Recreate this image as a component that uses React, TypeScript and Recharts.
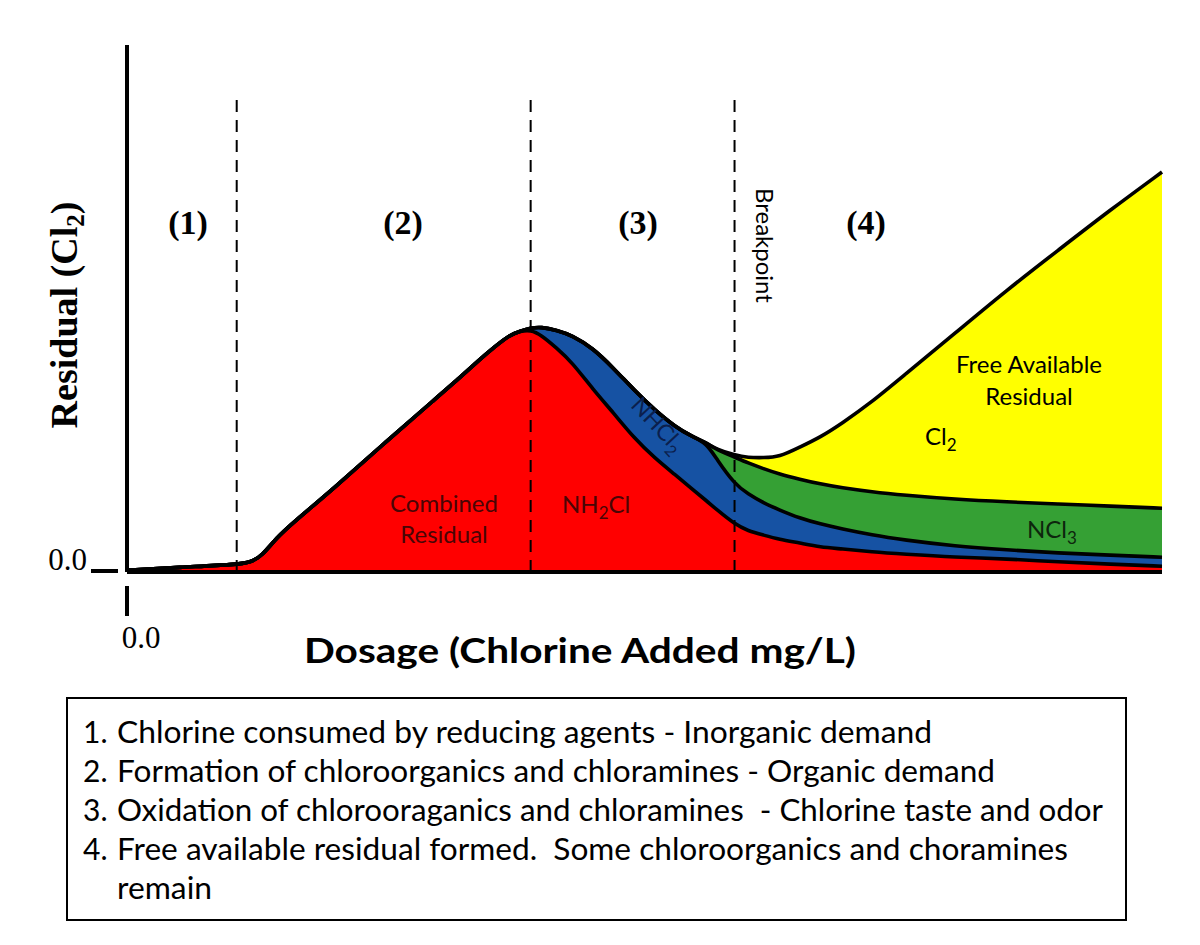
import React from 'react';
import { AreaChart, Area, XAxis, YAxis, ReferenceLine } from 'recharts';

// Dosage (chlorine added, relative units 0-100)
const dosage = [0, 5, 10.6, 12, 13, 14.5, 16, 20, 25, 30, 32, 34, 35.5, 37, 38, 39, 40, 41.5, 43, 45, 47, 49, 51, 53, 54.5, 56, 57, 58.7, 60, 61.5, 63, 65, 67, 69, 72, 75, 80, 85, 90, 95, 100];
// Layer thicknesses (residual, relative units 0-10), stacked bottom to top
const combinedNH2Cl = [0.03, 0.09, 0.14, 0.19, 0.3, 0.66, 0.93, 1.59, 2.47, 3.32, 3.66, 4.02, 4.27, 4.5, 4.57, 4.59, 4.5, 4.25, 3.98, 3.47, 3.02, 2.54, 2.16, 1.84, 1.59, 1.35, 1.18, 0.91, 0.78, 0.7, 0.62, 0.55, 0.47, 0.44, 0.38, 0.34, 0.28, 0.25, 0.19, 0.15, 0.11];
const dichloramineNHCl2 = [0, 0, 0, 0, 0, 0, 0, 0, 0, 0, 0, 0, 0, 0, 0, 0.04, 0.15, 0.34, 0.51, 0.78, 0.85, 0.91, 0.91, 0.91, 0.99, 1.1, 0.95, 0.76, 0.7, 0.61, 0.56, 0.47, 0.44, 0.38, 0.32, 0.27, 0.21, 0.17, 0.17, 0.17, 0.17];
const trichloramineNCl3 = [0, 0, 0, 0, 0, 0, 0, 0, 0, 0, 0, 0, 0, 0, 0, 0, 0, 0, 0, 0, 0, 0, 0, 0, 0, 0, 0.19, 0.51, 0.59, 0.65, 0.68, 0.74, 0.76, 0.78, 0.82, 0.85, 0.89, 0.91, 0.93, 0.93, 0.93];
const freeCl2 = [0, 0, 0, 0, 0, 0, 0, 0, 0, 0, 0, 0, 0, 0, 0, 0, 0, 0, 0, 0, 0, 0, 0, 0, 0, 0, 0, 0.04, 0.1, 0.21, 0.32, 0.61, 0.89, 1.21, 1.71, 2.26, 3.15, 4.02, 4.82, 5.62, 6.38];

const zoneBoundaries = [10.6, 39, 58.7];
const zoneTop = 9.05;
const xTicks = [0];
const yTicks = [0];
const zoneLabels = ['(1)', '(2)', '(3)', '(4)'];
const legendNumbers = ['1.', '2.', '3.', '4.'];
const legendLines = [
  'Chlorine consumed by reducing agents - Inorganic demand',
  'Formation of chloroorganics and chloramines - Organic demand',
  'Oxidation of chlorooraganics and chloramines  - Chlorine taste and odor',
  'Free available residual formed.  Some chloroorganics and choramines',
  'remain',
];

const series = [
  { key: 'nh2cl', color: '#ff0000' },
  { key: 'nhcl2', color: '#1652a3' },
  { key: 'ncl3', color: '#35a034' },
  { key: 'cl2', color: '#ffff00' },
];

const data = dosage.map((x, i) => ({
  x,
  nh2cl: combinedNH2Cl[i],
  nhcl2: dichloramineNHCl2[i],
  ncl3: trichloramineNCl3[i],
  cl2: freeCl2[i],
}));

const SERIF = '"Liberation Serif", "Times New Roman", serif';
const SANS = 'Lato, "Open Sans", sans-serif';

const YTick = (props: any) => {
  const { y, payload } = props;
  return (
    <g>
      <line x1={91} x2={118} y1={y - 1} y2={y - 1} stroke="#000" strokeWidth={4} />
      <text x={87} y={y - 2} textAnchor="end" fontFamily={SERIF} fontSize={31} fill="#000">
        {Number(payload.value).toFixed(1)}
      </text>
    </g>
  );
};

const XTick = (props: any) => {
  const { x, payload } = props;
  return (
    <g>
      <line x1={x} x2={x} y1={586} y2={616} stroke="#000" strokeWidth={4} />
      <text x={x + 14} y={648} textAnchor="middle" fontFamily={SERIF} fontSize={31} fill="#000">
        {Number(payload.value).toFixed(1)}
      </text>
    </g>
  );
};

const zoneLabelX = [188, 403, 638, 866];
const legendBaselines = [743, 782, 821, 860, 899];
const legendWidths = [815, 878, 986, 951, 95];

export default function App() {
  return (
    <div style={{ position: 'absolute', left: 0, top: 0, width: 1200, height: 945, background: '#fff', overflow: 'hidden' }}>
      <div style={{ position: 'absolute', left: 0, top: 0 }}>
        <AreaChart width={1200} height={700} data={data} margin={{ top: 45, right: 38, bottom: 0, left: 0 }}>
          <XAxis
            type="number"
            dataKey="x"
            domain={[0, 100]}
            ticks={xTicks}
            tickLine={false}
            axisLine={{ stroke: '#000', strokeWidth: 4 }}
            height={128}
            tick={<XTick />}
          />
          <YAxis
            type="number"
            domain={[0, 10]}
            ticks={yTicks}
            tickLine={false}
            axisLine={{ stroke: '#000', strokeWidth: 4 }}
            width={127}
            tick={<YTick />}
          />
          {series.map((s) => (
            <Area
              key={'fill-' + s.key}
              type="basis"
              dataKey={s.key}
              stackId="fill"
              stroke="none"
              fill={s.color}
              fillOpacity={1}
              isAnimationActive={false}
              dot={false}
              activeDot={false}
            />
          ))}
          {series.map((s) => (
            <Area
              key={'line-' + s.key}
              type="basis"
              dataKey={s.key}
              stackId="line"
              stroke="#000"
              strokeWidth={3.6}
              fill="none"
              isAnimationActive={false}
              dot={false}
              activeDot={false}
            />
          ))}
          {zoneBoundaries.map((b) => (
            <ReferenceLine
              key={'zb' + b}
              segment={[{ x: b, y: 0 }, { x: b, y: zoneTop }]}
              stroke="#000"
              strokeWidth={2}
              strokeDasharray="12 8"
            />
          ))}
        </AreaChart>
      </div>
      <svg width={1200} height={945} style={{ position: 'absolute', left: 0, top: 0, pointerEvents: 'none' }}>
        {/* Axis titles */}
        <text
          transform="translate(77,315) rotate(-90)"
          textAnchor="middle"
          fontFamily={SERIF}
          fontWeight={700}
          fontSize={38}
          fill="#000"
        >
          Residual (Cl<tspan fontSize={25} dy={7}>2</tspan><tspan dy={-7}>)</tspan>
        </text>
        <text
          x={304}
          y={663}
          fontFamily={SANS}
          fontWeight={700}
          fontSize={35}
          fill="#000"
          textLength={552}
          lengthAdjust="spacingAndGlyphs"
        >
          Dosage (Chlorine Added mg/L)
        </text>

        {/* Zone labels */}
        {zoneLabels.map((z, i) => (
          <text key={z} x={zoneLabelX[i]} y={234} textAnchor="middle" fontFamily={SERIF} fontWeight={700} fontSize={34} fill="#000">
            {z}
          </text>
        ))}

        {/* Breakpoint */}
        <text transform="translate(756,188) rotate(90)" fontFamily={SANS} fontSize={24} fill="#000">
          Breakpoint
        </text>

        {/* In-area labels */}
        <text x={444} y={512} textAnchor="middle" fontFamily={SANS} fontSize={24} fill="#4a0505">Combined</text>
        <text x={444} y={543} textAnchor="middle" fontFamily={SANS} fontSize={24} fill="#4a0505">Residual</text>
        <text x={562} y={513} fontFamily={SANS} fontSize={24} fill="#4a0505">
          NH<tspan fontSize={17} dy={6}>2</tspan><tspan dy={-6}>Cl</tspan>
        </text>
        <text transform="translate(652,430) rotate(47)" textAnchor="middle" fontFamily={SANS} fontSize={23} fill="#0b1f4d">
          NHCl<tspan fontSize={16} dy={6}>2</tspan>
        </text>
        <text x={1029} y={373} textAnchor="middle" fontFamily={SANS} fontSize={24} fill="#000">Free Available</text>
        <text x={1029} y={405} textAnchor="middle" fontFamily={SANS} fontSize={24} fill="#000">Residual</text>
        <text x={925} y={445} fontFamily={SANS} fontSize={24} fill="#000">
          Cl<tspan fontSize={17} dy={6}>2</tspan>
        </text>
        <text x={1027} y={538} fontFamily={SANS} fontSize={24} fill="#0d260d">
          NCl<tspan fontSize={17} dy={6}>3</tspan>
        </text>

        {/* Explanation box */}
        <rect x={67} y={698} width={1059} height={222} fill="none" stroke="#000" strokeWidth={2} />
        {legendNumbers.map((n, i) => (
          <text key={n} x={83} y={legendBaselines[i]} fontFamily={SANS} fontSize={30} fill="#000">
            {n}
          </text>
        ))}
        {legendLines.map((t, i) => (
          <text
            key={i}
            x={117}
            y={legendBaselines[i]}
            fontFamily={SANS}
            fontSize={30}
            fill="#000"
            textLength={legendWidths[i]}
            lengthAdjust="spacingAndGlyphs"
            style={{ whiteSpace: 'pre' }}
          >
            {t}
          </text>
        ))}
      </svg>
    </div>
  );
}
